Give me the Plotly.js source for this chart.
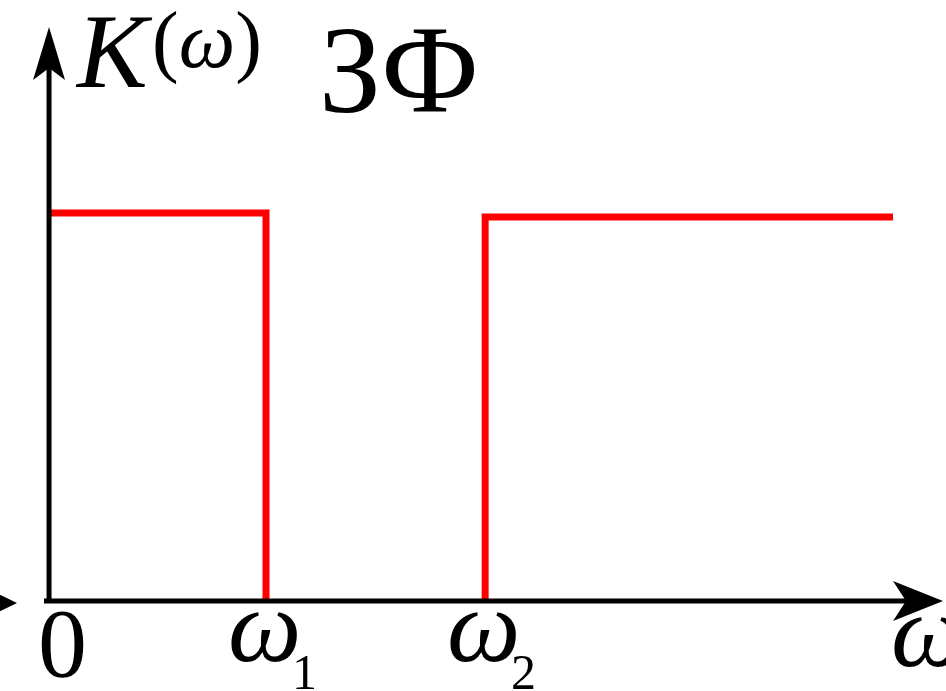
<!DOCTYPE html>
<html>
<head>
<meta charset="utf-8">
<script src="https://cdn.plot.ly/plotly-3.0.1.min.js"></script>
<style>html,body{margin:0;padding:0;background:#fff;} #chart{width:946px;height:691px;}</style>
</head>
<body>
<div id="chart"></div>
<script>
// Data (frequency in units of omega1, gain K)
const segment1Omega = [0, 1, 1];
const segment1K = [1, 1, 0];
const segment2Omega = [2.01, 2.01, 3.89];
const segment2K = [0, 0.99, 0.99];
const tickValues = [0, 1, 2.01];
const tickLabels = ["0", "ω", "ω"];
const tickSubs = ["", "1", "2"];

const W = 946, H = 691;
const xRange = [-0.226, 4.134];
const yRange = [-0.232, 1.549];
function px2x(p){ return xRange[0] + p / W * (xRange[1] - xRange[0]); }
function py2y(p){ return yRange[1] - p / H * (yRange[1] - yRange[0]); }

const traces = [
  {x: segment1Omega, y: segment1K, mode: 'lines', line: {color: '#ff0000', width: 7}, hoverinfo: 'skip'},
  {x: segment2Omega, y: segment2K, mode: 'lines', line: {color: '#ff0000', width: 7}, hoverinfo: 'skip'}
];

const axisY = 0, axisX = 0;
function arrowPath(tip, back, notch, half, horizontal){
  if (horizontal) {
    return `M ${tip[0]} ${tip[1]} L ${back} ${tip[1] + half} L ${notch} ${tip[1]} L ${back} ${tip[1] - half} Z`;
  }
  return `M ${tip[0]} ${tip[1]} L ${tip[0] + half} ${back} L ${tip[0]} ${notch} L ${tip[0] - half} ${back} Z`;
}
const shapes = [
  {type: 'line', xref: 'x', yref: 'y', x0: px2x(44), x1: px2x(915), y0: axisY, y1: axisY, line: {color: '#000', width: 5}},
  {type: 'line', xref: 'x', yref: 'y', x0: axisX, x1: axisX, y0: py2y(603), y1: py2y(50), line: {color: '#000', width: 5}},
  {type: 'path', xref: 'x', yref: 'y', fillcolor: '#000', line: {width: 0},
   path: arrowPath([px2x(943), axisY], px2x(893), px2x(906), py2y(0) - py2y(20), true)},
  {type: 'path', xref: 'x', yref: 'y', fillcolor: '#000', line: {width: 0},
   path: arrowPath([axisX, py2y(27)], py2y(80), py2y(68), px2x(16) - px2x(0), false)},
  {type: 'path', xref: 'x', yref: 'y', fillcolor: '#000', line: {width: 0},
   path: arrowPath([px2x(17), py2y(603)], px2x(-12), px2x(-4), py2y(0) - py2y(14), true)}
];

const serif = 'Liberation Serif, Times New Roman, serif';
const annotations = [];
tickValues.forEach((v, i) => {
  annotations.push({x: v, y: 0, xref: 'x', yref: 'y', text: i === 0 ? tickLabels[i] : '<i>' + tickLabels[i] + '</i>',
    showarrow: false, xanchor: 'center', yanchor: 'top', yshift: i === 0 ? 14 : 35, xshift: i === 0 ? 13 : -2,
    font: {family: serif, size: i === 0 ? 98 : 104, color: '#000'}});
  if (tickSubs[i]) {
    annotations.push({x: v, y: 0, xref: 'x', yref: 'y', text: tickSubs[i], showarrow: false,
      xanchor: 'left', yanchor: 'top', xshift: 24, yshift: -41, font: {family: serif, size: 50, color: '#000'}});
  }
});
annotations.push({x: 3.89, y: 0, xref: 'x', yref: 'y', text: '<i>ω</i>', showarrow: false,
  xanchor: 'left', yanchor: 'top', xshift: -4, yshift: 30, font: {family: serif, size: 104, color: '#000'}});
annotations.push({x: axisX, y: py2y(0), xref: 'x', yref: 'y', text: '<i>K</i>', showarrow: false,
  xanchor: 'left', yanchor: 'top', xshift: 24, yshift: 9, font: {family: serif, size: 106, color: '#000'}});
annotations.push({x: axisX, y: py2y(0), xref: 'x', yref: 'y', text: '(<i>ω</i>)', showarrow: false,
  xanchor: 'left', yanchor: 'top', xshift: 101, yshift: 6, font: {family: serif, size: 80, color: '#000'}});
annotations.push({x: axisX, y: py2y(0), xref: 'x', yref: 'y', text: 'ЗФ', showarrow: false,
  xanchor: 'left', yanchor: 'top', xshift: 268, font: {family: serif, size: 124, color: '#000'}});

const layout = {
  width: W, height: H,
  margin: {l: 0, r: 0, t: 0, b: 0, pad: 0},
  paper_bgcolor: '#fff', plot_bgcolor: '#fff',
  showlegend: false,
  xaxis: {range: xRange, visible: false, fixedrange: true},
  yaxis: {range: yRange, visible: false, fixedrange: true},
  shapes: shapes,
  annotations: annotations
};
Plotly.newPlot('chart', traces, layout, {displayModeBar: false, staticPlot: true});
</script>
</body>
</html>
